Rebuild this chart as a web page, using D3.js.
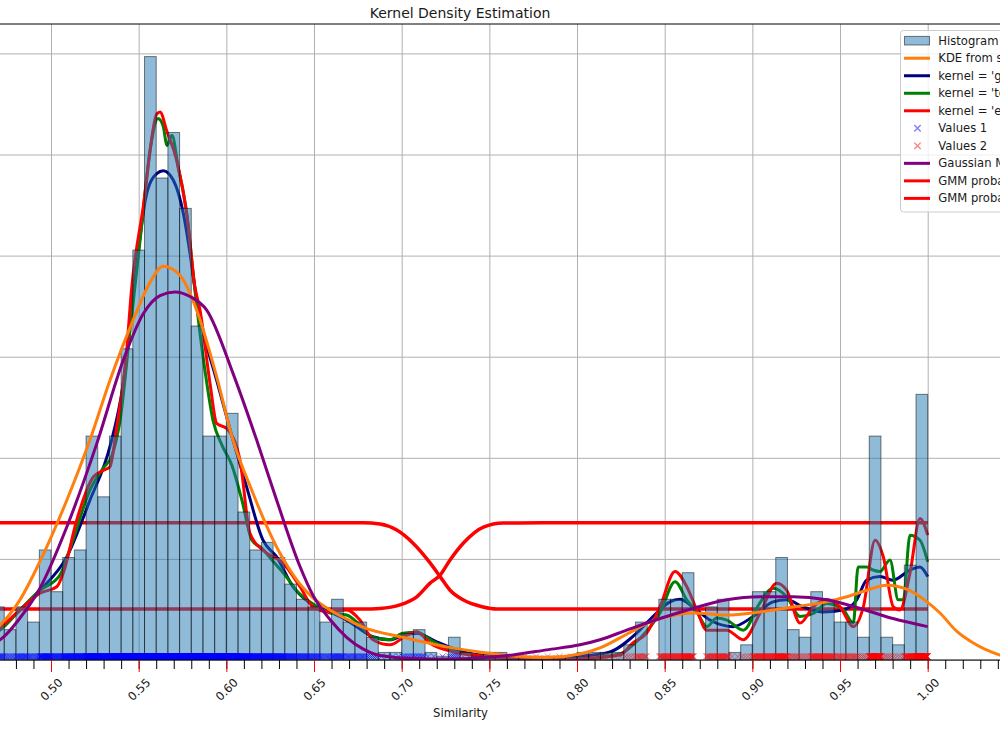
<!DOCTYPE html>
<html>
<head>
<meta charset="utf-8">
<script src="https://cdn.jsdelivr.net/npm/d3@7"></script>
<style>
  body { margin: 0; background: #fff; }
  svg { display: block; font-family: "DejaVu Sans", sans-serif; }
</style>
</head>
<body>
<svg id="chart" width="1000" height="750"></svg>
<script>
'use strict';

/* histogram: 80 bins of width 1/150 ending at 1.0, counts */
const histStart = 0.46667;
const binWidth = 1 / 150;
const binCounts = [
  14, 8, 14, 10, 29, 18, 27, 29, 59, 43,
  59, 82, 108, 159, 127, 139, 119, 88, 59, 59,
  65, 39, 29, 31, 27, 20, 16, 14, 10, 16,
  10, 10, 6, 2, 2, 7, 8, 2, 1, 6,
  2, 1, 2, 2, 1, 1, 1, 1, 1, 1,
  2, 2, 2, 2, 4, 10, 0, 16, 16, 23,
  0, 14, 16, 2, 4, 18, 18, 27, 8, 6,
  18, 16, 10, 10, 6, 59, 6, 4, 25, 70
];
// bins belonging to "Values 1" (the rest are "Values 2")
const values1Bins = 40;

// KDE from scipy (orange)
const kdeScipy = [
  [0.466, 0.55], [0.4709, 0.69], [0.4823, 1.19], [0.4937, 1.95], [0.5090, 3.16], [0.5222, 4.35],
  [0.5336, 5.53], [0.5468, 6.72], [0.5565, 7.47], [0.5640, 7.79], [0.5736, 7.61], [0.5831, 6.92],
  [0.5945, 5.60], [0.6038, 4.35], [0.6152, 3.30], [0.6230, 2.65], [0.6306, 2.11], [0.6363, 1.78],
  [0.6420, 1.50], [0.6494, 1.23], [0.6591, 0.99], [0.6686, 0.81], [0.6779, 0.65], [0.7007, 0.45],
  [0.7257, 0.26], [0.7485, 0.14], [0.7635, 0.08], [0.7829, 0.05], [0.8017, 0.12], [0.8131, 0.24],
  [0.8283, 0.51], [0.8416, 0.75], [0.8530, 0.87], [0.8661, 0.93], [0.8854, 0.89], [0.9043, 0.95],
  [0.9232, 1.05], [0.9424, 1.15], [0.9538, 1.25], [0.9652, 1.38], [0.9766, 1.48], [0.9880, 1.40],
  [0.9996, 1.15], [1.0070, 0.93], [1.0165, 0.57], [1.0258, 0.34], [1.0412, 0.10], [1.05, 0.04]
];

// kernel = 'gaussian' (navy)
const kdeGaussian = [
  [0.466, 0.50], [0.4709, 0.63], [0.4823, 0.99], [0.4937, 1.38], [0.5090, 2.04], [0.5222, 3.16],
  [0.5336, 4.22], [0.5412, 5.47], [0.5469, 7.21], [0.5546, 9.23], [0.5603, 9.62], [0.5640, 9.68],
  [0.5698, 9.49], [0.5755, 8.83], [0.5793, 8.04], [0.5821, 7.35], [0.5850, 6.78], [0.5945, 5.53],
  [0.6038, 4.35], [0.6116, 3.42], [0.6209, 2.37], [0.6287, 2.04], [0.6380, 1.45], [0.6494, 1.09],
  [0.6591, 0.95], [0.6686, 0.79], [0.6836, 0.46], [0.6933, 0.40], [0.7007, 0.49], [0.7086, 0.53],
  [0.7200, 0.36], [0.7350, 0.16], [0.7542, 0.07], [0.7827, 0.03], [0.8017, 0.07], [0.8188, 0.16],
  [0.8340, 0.53], [0.8433, 0.86], [0.8530, 1.15], [0.8587, 1.20], [0.8661, 1.05], [0.8758, 0.79],
  [0.8889, 0.66], [0.9004, 0.86], [0.9118, 1.15], [0.9196, 1.19], [0.9289, 1.05], [0.9403, 0.95],
  [0.9517, 0.99], [0.9595, 1.19], [0.9652, 1.58], [0.9728, 1.65], [0.9802, 1.58], [0.9899, 1.78],
  [0.9956, 1.84], [1.0, 1.65]
];

// kernel = 'tophat' (green)
const kdeTophat = [
  [0.466, 0.48], [0.4709, 0.59], [0.4823, 0.99], [0.4937, 1.38], [0.5051, 1.68], [0.5125, 2.37],
  [0.5222, 3.36], [0.5297, 3.79], [0.5348, 4.05], [0.5394, 4.74], [0.5451, 6.52], [0.5508, 8.30],
  [0.5565, 10.08], [0.5610, 10.71], [0.5639, 10.57], [0.5662, 10.18], [0.5690, 10.38], [0.5724, 9.78],
  [0.5776, 8.79], [0.5821, 7.31], [0.5878, 5.73], [0.5924, 4.74], [0.5975, 4.25], [0.6032, 3.85],
  [0.6089, 3.16], [0.6146, 2.37], [0.6203, 2.21], [0.6260, 1.98], [0.6335, 1.68], [0.6409, 1.34],
  [0.6494, 1.11], [0.6591, 0.93], [0.6686, 0.89], [0.6762, 0.69], [0.6836, 0.45], [0.6933, 0.40],
  [0.7007, 0.53], [0.7086, 0.55], [0.7173, 0.38], [0.7293, 0.18], [0.7447, 0.08], [0.7635, 0.03],
  [0.7920, 0.01], [0.8245, 0.12], [0.8319, 0.30], [0.8397, 0.57], [0.8473, 0.93], [0.8559, 1.55],
  [0.8626, 1.19], [0.8683, 0.95], [0.8740, 0.66], [0.8797, 0.83], [0.8854, 0.79], [0.8948, 0.59],
  [0.9043, 1.13], [0.9118, 1.42], [0.9196, 1.25], [0.9272, 0.86], [0.9347, 0.92], [0.9424, 1.12],
  [0.9519, 0.99], [0.9576, 0.73], [0.9603, 1.84], [0.9652, 1.84], [0.9688, 1.78], [0.9728, 1.75],
  [0.9785, 1.98], [0.9832, 1.19], [0.9861, 1.19], [0.9899, 2.47], [0.9956, 2.37], [1.0, 1.94]
];

// kernel = 'epanechnikov' (red)
const kdeEpan = [
  [0.466, 0.50], [0.4709, 0.63], [0.4823, 0.99], [0.4937, 1.32], [0.5033, 1.45], [0.5070, 1.72],
  [0.5147, 2.77], [0.5241, 3.62], [0.5298, 3.75], [0.5336, 3.82], [0.5375, 4.61], [0.5432, 6.13],
  [0.5456, 7.21], [0.5526, 8.96], [0.5603, 10.80], [0.5622, 10.84], [0.5660, 10.47], [0.5717, 9.88],
  [0.5774, 8.83], [0.5821, 7.38], [0.5850, 6.92], [0.5907, 5.47], [0.5945, 4.68], [0.6002, 4.58],
  [0.6078, 3.95], [0.6135, 2.50], [0.6209, 2.17], [0.6323, 1.92], [0.6420, 1.45], [0.6494, 1.05],
  [0.6591, 0.95], [0.6686, 0.99], [0.6762, 0.79], [0.6836, 0.40], [0.6933, 0.30], [0.7029, 0.49],
  [0.7086, 0.56], [0.7162, 0.33], [0.7293, 0.16], [0.7447, 0.08], [0.7635, 0.03], [0.7920, 0.01],
  [0.8245, 0.10], [0.8319, 0.34], [0.8397, 0.53], [0.8473, 1.05], [0.8559, 1.75], [0.8626, 1.45],
  [0.8683, 0.99], [0.8740, 0.59], [0.8854, 0.59], [0.8948, 0.40], [0.9043, 0.92], [0.9139, 1.52],
  [0.9196, 1.38], [0.9272, 0.73], [0.9347, 1.05], [0.9424, 1.19], [0.9500, 1.05], [0.9576, 0.66],
  [0.9633, 1.05], [0.9700, 2.37], [0.9747, 2.04], [0.9804, 1.05], [0.9842, 0.99], [0.9899, 1.72],
  [0.9956, 2.80], [1.0, 2.47]
];

// Gaussian Mixture density (purple)
const gmmDensity = [
  [0.466, 0.33], [0.4709, 0.40], [0.4823, 0.83], [0.4937, 1.42], [0.5090, 2.63], [0.5261, 4.28],
  [0.5412, 5.93], [0.5526, 6.85], [0.5622, 7.21], [0.5707, 7.28], [0.5793, 7.19], [0.5888, 6.92],
  [0.6038, 5.67], [0.6173, 4.35], [0.6287, 3.16], [0.6420, 1.85], [0.6494, 1.28], [0.6591, 0.80],
  [0.6686, 0.45], [0.6779, 0.22], [0.6876, 0.09], [0.7065, 0.03], [0.7257, 0.02], [0.7447, 0.04],
  [0.7635, 0.10], [0.7827, 0.20], [0.8017, 0.30], [0.8131, 0.40], [0.8283, 0.59], [0.8473, 0.82],
  [0.8661, 1.02], [0.8854, 1.19], [0.9043, 1.25], [0.9232, 1.25], [0.9424, 1.19], [0.9615, 1.02],
  [0.9802, 0.82], [1.0, 0.66]
];

// GMM probability curves (red)
const gmmProb1 = [
  [0.46, 2.713], [0.6779, 2.713], [0.6876, 2.69], [0.6972, 2.57], [0.7065, 2.31], [0.7162, 1.92],
  [0.7219, 1.65], [0.7276, 1.38], [0.7350, 1.19], [0.7464, 1.05], [0.7542, 1.01], [0.78, 1.008],
  [1.0, 1.008]
];
const gmmProb2 = [
  [0.46, 1.008], [0.6779, 1.008], [0.6876, 1.02], [0.6990, 1.09], [0.7086, 1.25], [0.7162, 1.52],
  [0.7219, 1.68], [0.7276, 1.98], [0.7351, 2.31], [0.7466, 2.63], [0.7580, 2.71], [0.78, 2.713],
  [1.0, 2.713]
];

const xMajorTicks = [0.50, 0.55, 0.60, 0.65, 0.70, 0.75, 0.80, 0.85, 0.90, 0.95, 1.00];
const xMinorTicks = d3.range(47, 105).map(d => d / 100);
const yTicks = [0, 2, 4, 6, 8, 10, 12];

const legendLabels = [
  "Histogram", "KDE from scipy", "kernel = 'gaussian'", "kernel = 'tophat'",
  "kernel = 'epanechnikov'", "Values 1", "Values 2", "Gaussian Mixture",
  "GMM probability 1", "GMM probability 2"
];

/**************************************************************************/

const plotTop = 24, plotBottom = 660;
const svg = d3.select('#chart');

const x = d3.scaleLinear().domain([0.5, 1.0]).range([51, 927.7]);
const y = d3.scaleLinear().domain([0, 12]).range([plotBottom, 53.4]);

svg.append('defs').append('clipPath').attr('id', 'plotClip')
  .append('rect')
    .attr('x', -100).attr('y', plotTop)
    .attr('width', 1300).attr('height', plotBottom - plotTop);

// grid
const grid = svg.append('g');
grid.append('g')
  .attr('transform', `translate(0,${plotBottom})`)
  .call(d3.axisBottom(x).tickValues(xMajorTicks).tickSize(-(plotBottom - plotTop)).tickFormat(''))
  .call(g => g.select('.domain').remove());
grid.append('g')
  .attr('transform', 'translate(-20,0)')
  .call(d3.axisLeft(y).tickValues(yTicks).tickSize(-1100).tickFormat(''))
  .call(g => g.select('.domain').remove());
grid.selectAll('line').attr('stroke', '#b0b0b0').attr('stroke-width', 1);

const plot = svg.append('g').attr('clip-path', 'url(#plotClip)');

const line = d3.line()
  .x(d => x(d[0]))
  .y(d => y(d[1]))
  .curve(d3.curveMonotoneX);

function drawCurve(data, color, width) {
  plot.append('path')
    .datum(data)
    .attr('d', line)
    .attr('fill', 'none')
    .attr('stroke', color)
    .attr('stroke-width', width)
    .attr('stroke-linejoin', 'round')
    .attr('stroke-linecap', 'butt');
}

// lines that sit under the (semi transparent) histogram
drawCurve(gmmProb1, '#ff0000', 3.5);
drawCurve(gmmProb2, '#ff0000', 3.5);
drawCurve(kdeGaussian, '#000080', 3);
drawCurve(kdeTophat, '#008000', 3);
drawCurve(kdeEpan, '#ff0000', 3);

// histogram as density
const total = d3.sum(binCounts);
const bins = binCounts.map((c, i) => ({
  x0: histStart + i * binWidth,
  x1: histStart + (i + 1) * binWidth,
  count: c,
  density: c / (total * binWidth)
}));

plot.append('g')
  .selectAll('rect')
  .data(bins)
  .enter()
  .append('rect')
    .attr('x', d => x(d.x0))
    .attr('width', d => x(d.x1) - x(d.x0))
    .attr('y', d => y(d.density))
    .attr('height', d => y(0) - y(d.density))
    .attr('fill', '#1f77b4')
    .attr('fill-opacity', 0.5)
    .attr('stroke', '#000')
    .attr('stroke-opacity', 0.5)
    .attr('stroke-width', 1);

// rug of the raw values: one 'x' per counted value, spread inside its bin
const rug = [];
bins.forEach((b, i) => {
  for (let j = 0; j < b.count; j++) {
    rug.push({ v: b.x0 + (j + 0.5) / b.count * binWidth, series: i < values1Bins ? 1 : 2 });
  }
});
const xMark = 'M-3,-3L3,3M-3,3L3,-3';
plot.append('g')
  .selectAll('path')
  .data(rug)
  .enter()
  .append('path')
    .attr('d', xMark)
    .attr('transform', d => `translate(${x(d.v)},${y(0.07)})`)
    .attr('fill', 'none')
    .attr('stroke', d => d.series === 1 ? '#0000ff' : '#ff0000')
    .attr('stroke-opacity', 0.5)
    .attr('stroke-width', 1);

// lines drawn on top of the histogram
drawCurve(kdeScipy, '#ff7f0e', 3);
drawCurve(gmmDensity, '#800080', 3);

// spines
svg.append('line').attr('x1', -10).attr('x2', 1010).attr('y1', plotTop).attr('y2', plotTop)
  .attr('stroke', '#000').attr('stroke-width', 1);
svg.append('line').attr('x1', -10).attr('x2', 1010).attr('y1', plotBottom).attr('y2', plotBottom)
  .attr('stroke', '#000').attr('stroke-width', 1);

// x ticks: minor black every 0.01, major red every 0.05 with rotated labels
svg.append('g')
  .attr('transform', `translate(0,${plotBottom})`)
  .call(d3.axisBottom(x).tickValues(xMinorTicks).tickSize(9).tickFormat(''))
  .call(g => g.select('.domain').remove())
  .call(g => g.selectAll('line').attr('stroke', '#000').attr('stroke-width', 1));

svg.append('g')
  .attr('transform', `translate(0,${plotBottom})`)
  .call(d3.axisBottom(x).tickValues(xMajorTicks).tickSize(12).tickFormat(d3.format('.2f')))
  .call(g => g.select('.domain').remove())
  .call(g => g.selectAll('line').attr('stroke', '#ff0000').attr('stroke-width', 1))
  .call(g => g.selectAll('text')
    .attr('y', 0)
    .attr('dy', null)
    .attr('transform', 'translate(0,29.5) rotate(-45)')
    .attr('text-anchor', 'middle')
    .attr('dominant-baseline', 'central')
    .attr('font-family', '"DejaVu Sans", sans-serif')
    .attr('font-size', '11.6px')
    .attr('fill', '#1a1a1a'));

// titles
svg.append('text')
  .attr('x', 460).attr('y', 17.5)
  .attr('text-anchor', 'middle')
  .attr('font-size', '14px')
  .attr('fill', '#1a1a1a')
  .text('Kernel Density Estimation');

svg.append('text')
  .attr('x', 460.5).attr('y', 717)
  .attr('text-anchor', 'middle')
  .attr('font-size', '11.6px')
  .attr('fill', '#1a1a1a')
  .text('Similarity');

// legend
const legendKinds = [
  { kind: 'patch' },
  { kind: 'line', color: '#ff7f0e' },
  { kind: 'line', color: '#000080' },
  { kind: 'line', color: '#008000' },
  { kind: 'line', color: '#ff0000' },
  { kind: 'marker', color: '#0000ff' },
  { kind: 'marker', color: '#ff0000' },
  { kind: 'line', color: '#800080' },
  { kind: 'line', color: '#ff0000' },
  { kind: 'line', color: '#ff0000' }
];

const legend = svg.append('g');
legend.append('rect')
  .attr('x', 900.5).attr('y', 30.5)
  .attr('width', 200).attr('height', 181.5)
  .attr('rx', 3)
  .attr('fill', '#fff').attr('fill-opacity', 0.8)
  .attr('stroke', '#cccccc').attr('stroke-width', 1);

const rowY = i => 40.7 + i * 17.52;
const items = legend.selectAll('g.item')
  .data(legendLabels.map((label, i) => Object.assign({ label: label, i: i }, legendKinds[i])))
  .enter()
  .append('g')
    .attr('class', 'item')
    .attr('transform', d => `translate(0,${rowY(d.i)})`);

items.filter(d => d.kind === 'patch').append('rect')
  .attr('x', 904.5).attr('y', -4.3).attr('width', 25).attr('height', 8.6)
  .attr('fill', '#1f77b4').attr('fill-opacity', 0.5)
  .attr('stroke', '#000').attr('stroke-opacity', 0.5).attr('stroke-width', 1);

items.filter(d => d.kind === 'line').append('line')
  .attr('x1', 904).attr('x2', 930).attr('y1', 0).attr('y2', 0)
  .attr('stroke', d => d.color).attr('stroke-width', 3);

items.filter(d => d.kind === 'marker').append('path')
  .attr('d', 'M-3.2,-3.2L3.2,3.2M-3.2,3.2L3.2,-3.2')
  .attr('transform', 'translate(917.5,0)')
  .attr('fill', 'none')
  .attr('stroke', d => d.color).attr('stroke-opacity', 0.5).attr('stroke-width', 1.4);

items.append('text')
  .attr('x', 938.3).attr('y', 0)
  .attr('dominant-baseline', 'central')
  .attr('font-size', '11.6px')
  .attr('fill', '#1a1a1a')
  .text(d => d.label);
</script>
</body>
</html>
